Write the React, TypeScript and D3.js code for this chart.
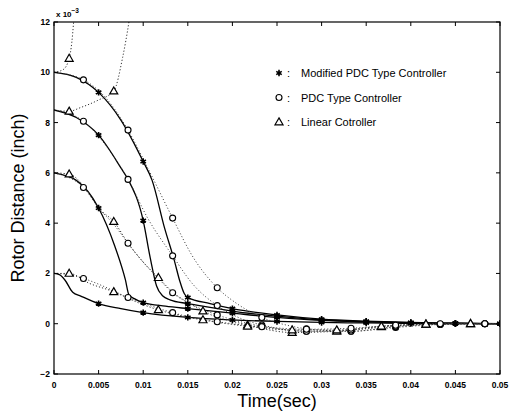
import React from "react";
import * as d3 from "d3";

// time (sec), rotor distance (x 1e-3 inch)
const modified10 = [[0,10],[0.0025,9.8],[0.005,9.2],[0.0075,8.1],[0.01,6.45],[0.011,5.7],[0.0124,3.8],[0.0135,2.5],[0.0141,1.7],[0.0146,1.2],[0.015,1.04],[0.0175,0.8],[0.02,0.6],[0.025,0.35],[0.03,0.18],[0.035,0.1],[0.04,0.05],[0.045,0.02],[0.05,0]];
const modified85 = [[0,8.5],[0.0025,8.2],[0.005,7.5],[0.0075,6.2],[0.0083,5.74],[0.01,4.1],[0.0108,2.6],[0.0115,1.5],[0.0122,1.1],[0.013,0.95],[0.015,0.8],[0.0175,0.65],[0.02,0.5],[0.025,0.3],[0.03,0.15],[0.035,0.08],[0.04,0.04],[0.045,0.02],[0.05,0]];
const modified6 = [[0,6],[0.0025,5.7],[0.005,4.6],[0.0068,3.1],[0.008,1.75],[0.0084,1.15],[0.009,1.0],[0.01,0.84],[0.0125,0.7],[0.015,0.6],[0.02,0.42],[0.025,0.25],[0.03,0.13],[0.035,0.07],[0.04,0.03],[0.045,0.01],[0.05,0]];
const modified2 = [[0,2],[0.0006,1.95],[0.0012,1.75],[0.0021,1.25],[0.003,1.1],[0.005,0.8],[0.0075,0.6],[0.01,0.44],[0.015,0.25],[0.02,0.15],[0.025,0.09],[0.03,0.05],[0.035,0.03],[0.04,0.01],[0.045,0],[0.05,0]];

const pdc10 = [[0,10],[0.0033,9.7],[0.006,8.9],[0.0083,7.7],[0.0105,6.2],[0.0133,4.2],[0.0155,2.7],[0.0183,1.43],[0.0205,0.8],[0.0233,0.25],[0.026,-0.05],[0.0283,-0.2],[0.0333,-0.3],[0.0383,-0.15],[0.0433,-0.03],[0.0483,0],[0.05,0]];
const pdc85 = [[0,8.5],[0.0033,8.05],[0.006,7.0],[0.0083,5.74],[0.0105,4.2],[0.0133,2.7],[0.0155,1.6],[0.0183,0.72],[0.021,0.2],[0.0233,-0.05],[0.0283,-0.3],[0.0333,-0.3],[0.0383,-0.12],[0.0433,-0.02],[0.0483,0],[0.05,0]];
const pdc6 = [[0,6],[0.0033,5.42],[0.005,4.6],[0.0067,3.95],[0.0083,3.2],[0.01,2.45],[0.0117,1.8],[0.0133,1.23],[0.0155,0.75],[0.0183,0.35],[0.0233,-0.1],[0.0283,-0.3],[0.0333,-0.25],[0.0383,-0.1],[0.0433,-0.02],[0.0483,0],[0.05,0]];
const pdc2 = [[0,2],[0.0017,1.95],[0.0033,1.8],[0.0058,1.45],[0.0083,1.04],[0.0108,0.72],[0.0133,0.44],[0.0158,0.22],[0.0183,0.08],[0.0233,-0.12],[0.0283,-0.22],[0.0333,-0.18],[0.0383,-0.06],[0.0433,0],[0.0483,0],[0.05,0]];

const linear10 = [[0,10],[0.001,10.1],[0.0017,10.55],[0.002,11.2],[0.0022,12],[0.0024,13]];
const linear85 = [[0,8.5],[0.0017,8.45],[0.003,8.6],[0.005,8.9],[0.0067,9.25],[0.0077,10.6],[0.0084,12],[0.0088,13]];
const linear6 = [[0,6],[0.0017,5.95],[0.0035,5.4],[0.005,4.6],[0.0067,4.06],[0.0085,3.1],[0.01,2.45],[0.0117,1.83],[0.0135,1.2],[0.015,0.85],[0.0167,0.5],[0.0217,-0.05],[0.0267,-0.35],[0.0317,-0.3],[0.0367,-0.12],[0.0417,-0.02],[0.0467,0],[0.05,0]];
const linear2 = [[0,2],[0.0017,2.0],[0.004,1.6],[0.0067,1.27],[0.009,0.9],[0.0117,0.55],[0.0145,0.3],[0.0167,0.15],[0.0217,-0.1],[0.0267,-0.25],[0.0317,-0.25],[0.0367,-0.1],[0.0417,-0.02],[0.0467,0],[0.05,0]];

const xTicks = [0, 0.005, 0.01, 0.015, 0.02, 0.025, 0.03, 0.035, 0.04, 0.045, 0.05];
const xTickLabels = ["0", "0.005", "0.01", "0.015", "0.02", "0.025", "0.03", "0.035", "0.04", "0.045", "0.05"];
const yTicks = [-2, 0, 2, 4, 6, 8, 10, 12];

const legendLabels = ["Modified PDC Type Controller", "PDC Type Controller", "Linear Cotroller"];

// marker phase per controller (markers every 0.005 s)
const groups = [
  { key: "star", dash: null, offset: 0, start: 1, series: [modified10, modified85, modified6, modified2] },
  { key: "circle", dash: "1,2.2", offset: 0.0033, start: 0, series: [pdc10, pdc85, pdc6, pdc2] },
  { key: "tri", dash: "1.2,2", offset: 0.0017, start: 0, series: [linear10, linear85, linear6, linear2] },
];

const W = 522, H = 417;
const margin = { top: 22, right: 22, bottom: 43, left: 54 };
const font = "'Liberation Sans', Arial, sans-serif";

const Marker = ({ kind, x, y }) => {
  if (kind === "star") {
    const d = d3.symbol(d3.symbolAsterisk, 28)();
    return (
      <g transform={`translate(${x},${y})`}>
        <circle r={1.5} fill="#000" />
        <path d={d} fill="none" stroke="#000" strokeWidth={1.6} />
      </g>
    );
  }
  if (kind === "circle") {
    return <circle cx={x} cy={y} r={3} fill="#fff" stroke="#000" strokeWidth={1.1} />;
  }
  const d = d3.symbol(d3.symbolTriangle, 28)();
  return <path d={d} transform={`translate(${x},${y + 0.5})`} fill="#fff" stroke="#000" strokeWidth={1.2} />;
};

export default function App() {
  const x = d3.scaleLinear().domain([0, 0.05]).range([margin.left, W - margin.right]);
  const y = d3.scaleLinear().domain([-2, 12]).range([H - margin.bottom, margin.top]);
  const line = d3.line().x((d) => x(d[0])).y((d) => y(d[1])).curve(d3.curveMonotoneX);

  const x0 = margin.left, x1 = W - margin.right, y0 = margin.top, y1 = H - margin.bottom;

  const markers = [];
  groups.forEach((g) => {
    g.series.forEach((s, si) => {
      s.forEach((p, pi) => {
        const kr = Math.round((p[0] - g.offset) / 0.005);
        if (kr >= g.start && Math.abs(p[0] - (g.offset + kr * 0.005)) < 0.00006 && p[1] <= 12) {
          markers.push(<Marker key={`${g.key}-${si}-${pi}`} kind={g.key} x={x(p[0])} y={y(p[1])} />);
        }
      });
    });
  });

  return (
    <svg width={W} height={H} style={{ position: "absolute", left: 0, top: 0, background: "#fff" }}>
      <defs>
        <clipPath id="plot">
          <rect x={x0} y={y0} width={x1 - x0} height={y1 - y0} />
        </clipPath>
      </defs>

      <g clipPath="url(#plot)">
        {groups.map((g) =>
          g.series.map((s, i) => (
            <path
              key={`${g.key}-${i}`}
              d={line(s)}
              fill="none"
              stroke={g.dash ? "#333" : "#000"}
              strokeWidth={g.dash ? 1 : 1.3}
              strokeDasharray={g.dash || undefined}
            />
          ))
        )}
        {markers}
      </g>

      {/* frame */}
      <rect x={x0} y={y0} width={x1 - x0} height={y1 - y0} fill="none" stroke="#000" strokeWidth={1.2} />

      {xTicks.map((t, i) => (
        <g key={`xt${i}`}>
          <line x1={x(t)} x2={x(t)} y1={y1} y2={y1 - 4} stroke="#000" />
          <line x1={x(t)} x2={x(t)} y1={y0} y2={y0 + 4} stroke="#000" />
          <text x={x(t)} y={y1 + 14} textAnchor="middle" fontFamily={font} fontSize={8.5} fontWeight="bold">
            {xTickLabels[i]}
          </text>
        </g>
      ))}
      {yTicks.map((t) => (
        <g key={`yt${t}`}>
          <line x1={x0} x2={x0 + 4} y1={y(t)} y2={y(t)} stroke="#000" />
          <line x1={x1} x2={x1 - 4} y1={y(t)} y2={y(t)} stroke="#000" />
          <text x={x0 - 4} y={y(t) + 3} textAnchor="end" fontFamily={font} fontSize={8.5} fontWeight="bold">
            {t < 0 ? `\u2212${-t}` : t}
          </text>
        </g>
      ))}

      <text x={x0 + 2} y={y0 - 5} fontFamily={font} fontSize={8} fontWeight="bold">
        x 10<tspan dy={-4} fontSize={6.5}>−3</tspan>
      </text>

      <text x={(x0 + x1) / 2} y={H - 10} textAnchor="middle" fontFamily={font} fontSize={18}>
        Time(sec)
      </text>
      <text
        transform={`translate(24,${(y0 + y1) / 2}) rotate(-90)`}
        textAnchor="middle"
        fontFamily={font}
        fontSize={18}
      >
        Rotor Distance (inch)
      </text>

      {legendLabels.map((l, i) => {
        const ly = 73 + i * 24.5;
        return (
          <g key={l}>
            <Marker kind={groups[i].key} x={279} y={ly} />
            <text x={287} y={ly + 4} fontFamily={font} fontSize={11}>:</text>
            <text x={301} y={ly + 4} fontFamily={font} fontSize={11}>{l}</text>
          </g>
        );
      })}
    </svg>
  );
}
